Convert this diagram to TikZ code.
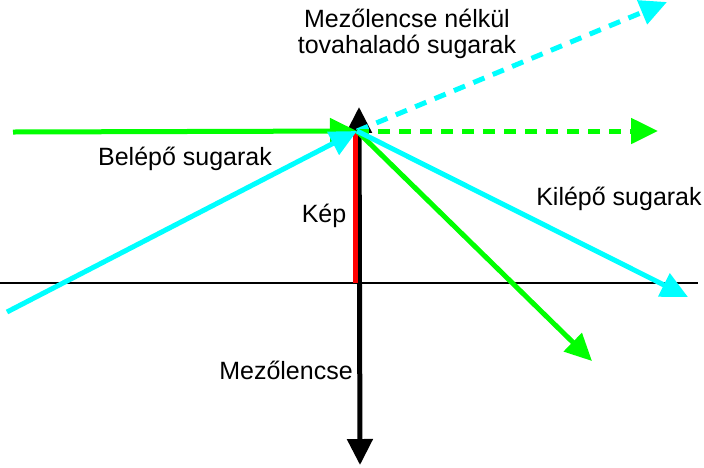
\documentclass[tikz,border=0pt]{standalone}
\usepackage{fontspec}
\setmainfont{Liberation Sans}
\usetikzlibrary{arrows.meta}
\definecolor{rayaqua}{RGB}{0,255,255}
\definecolor{raygreen}{RGB}{0,255,0}
\definecolor{imgred}{RGB}{255,0,0}

\begin{document}
\begin{tikzpicture}[x=1pt,y=-1pt,every node/.style={font=\fontsize{25}{26}\selectfont,inner sep=0pt},
  ray/.style={line width=5pt,-{Triangle[length=27pt,width=25pt]}},
  dashray/.style={ray,dash pattern=on 12pt off 9pt}]
\useasboundingbox (0,0) rectangle (704,467);
\coordinate (f) at (357,131);
\coordinate (ltop) at (359,107);
\coordinate (lbot) at (360,465);
\coordinate (ktop) at (355.5,131);
\coordinate (kbot) at (355.5,283);
\coordinate (a0) at (0,283);
\coordinate (a1) at (698,283);
\coordinate (gin) at (13,132);
\coordinate (cin) at (7,312);
\coordinate (gout) at (592,361);
\coordinate (cout) at (688,297);
\coordinate (gdash) at (658,131);
\coordinate (cdash) at (667,2);
\draw[line width=2pt] (a0)--(a1);
\draw[line width=5pt,{Triangle[length=26pt,width=25pt]}-{Triangle[length=26pt,width=25pt]}] (ltop)--(lbot);
\draw[imgred,line width=4.5pt] (ktop)--(kbot);
\draw[ray,rayaqua,dashray] (f)--(cdash);
\draw[ray,raygreen,dashray] (f)--(gdash);
\draw[ray,raygreen] (f)--(gout);
\draw[ray,rayaqua] (f)--(cout);
\draw[ray,raygreen] (gin)--(f);
\draw[ray,rayaqua] (cin)--(f);
\node[anchor=base,align=center] (free) at (407,53) {Mezőlencse nélkül\\tovahaladó sugarak};
\node[anchor=base] (in) at (185,165) {Belépő sugarak};
\node[anchor=base] (out) at (619,205) {Kilépő sugarak};
\node[anchor=base] (kep) at (324,222) {Kép};
\node[anchor=base] (lens) at (286,379) {Mezőlencse};
\end{tikzpicture}
\end{document}
